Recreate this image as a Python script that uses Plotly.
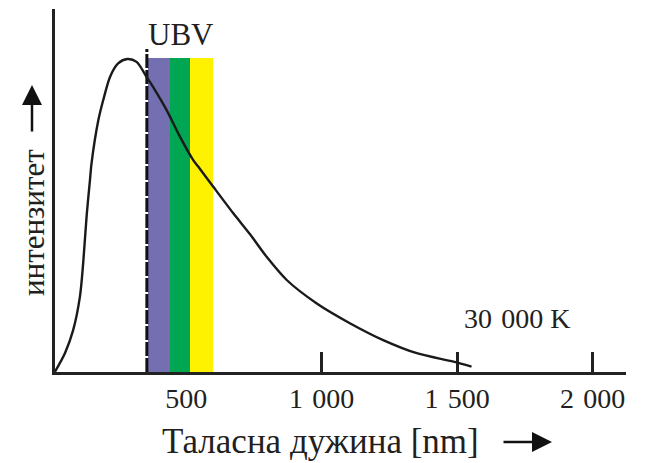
import plotly.graph_objects as go

# Curve (30 000 K black body): wavelength [nm] vs relative intensity
wavelength_nm = [16, 53, 83, 108, 120, 133, 145, 151, 176, 194, 219, 249, 283, 317, 354,
                 385, 428, 477, 526, 551, 600, 674, 735, 797, 871, 982, 1104, 1227, 1351, 1486, 1553]
intensity = [0.1, 6.1, 13.4, 24.1, 34.8, 50.2, 61.3, 66.8, 80.5, 86.9, 94.3, 98.6, 100, 99.1, 94.3,
             90.1, 83.7, 75.2, 67.7, 64.9, 59.2, 50.7, 44.1, 36.8, 29.4, 21.9, 15.6, 10.2, 6.0, 3.3, 1.7]

# UBV filter bands
band_names = ["U", "B", "V"]
band_start = [358, 440, 514]
band_end = [440, 514, 600]
band_top = [100.3, 100.3, 100.3]
band_colors = ["#736fb1", "#00a651", "#fff200"]

# Dashed marker line
dash_x = [355, 355]
dash_y = [0, 103.2]

tick_vals = [500, 1000, 1500, 2000]
tick_text = ["500", "1\u2004000", "1\u2004500", "2\u2004000"]

W, H = 647, 463
L, R, T, B = 55, 21, 9, 91
pw, ph = W - L - R, H - T - B


def px(x):
    return (x - L) / pw


def py(y):
    return (H - B - y) / ph


FONT = "Liberation Serif"
TXT = "#231f20"

fig = go.Figure()

fig.add_trace(go.Bar(
    x=[(s + e) / 2 for s, e in zip(band_start, band_end)],
    y=band_top,
    width=[e - s for s, e in zip(band_start, band_end)],
    marker=dict(color=band_colors, line=dict(width=0)),
    text=band_names, textposition="none",
    hoverinfo="skip", showlegend=False,
))

fig.add_trace(go.Scatter(
    x=dash_x, y=dash_y, mode="lines",
    line=dict(color="#111", width=3, dash="14px,2px"),
    hoverinfo="skip", showlegend=False,
))

fig.add_trace(go.Scatter(
    x=wavelength_nm, y=intensity, mode="lines",
    line=dict(color="#1a1a1a", width=2.4, shape="spline", smoothing=0.8),
    showlegend=False,
))


def label(x, y, text, size, angle=0):
    return dict(x=px(x), y=py(y), xref="paper", yref="paper", text=text,
                xanchor="center", yanchor="middle", textangle=angle,
                showarrow=False, font=dict(family=FONT, size=size, color=TXT))


fig.update_layout(
    width=W, height=H,
    margin=dict(l=L, r=R, t=T, b=B),
    paper_bgcolor="white", plot_bgcolor="white",
    bargap=0,
    font=dict(family=FONT, color=TXT, size=28),
    xaxis=dict(
        range=[16, 2123], showgrid=False, zeroline=False,
        showline=True, linecolor="#222", linewidth=2.5,
        tickvals=tick_vals, ticktext=tick_text,
        ticks="inside", ticklen=20, tickwidth=2.5, tickcolor="#222",
        tickfont=dict(family=FONT, size=28, color=TXT),
        layer="below traces",
    ),
    yaxis=dict(
        range=[0, 116], showgrid=False, zeroline=False,
        showline=True, linecolor="#222", linewidth=2.5,
        showticklabels=False, ticks="",
        layer="below traces",
    ),
    annotations=[
        label(181, 35, "UBV", 31),
        label(517, 318, "30\u2004000 K", 28),
        label(320, 441, "Таласна дужина [nm]", 35),
        label(33, 223, "интензитет", 31, -90),
        # arrows
        dict(x=px(552), y=py(442), xref="paper", yref="paper", text="",
             showarrow=True, ax=-50, ay=0, axref="pixel", ayref="pixel",
             arrowhead=2, arrowsize=1.6, arrowwidth=2.5, arrowcolor="#111"),
        dict(x=px(32), y=py(85), xref="paper", yref="paper", text="",
             showarrow=True, ax=0, ay=48, axref="pixel", ayref="pixel",
             arrowhead=2, arrowsize=1.6, arrowwidth=2.5, arrowcolor="#111"),
    ],
)

fig.write_html("out.html")
